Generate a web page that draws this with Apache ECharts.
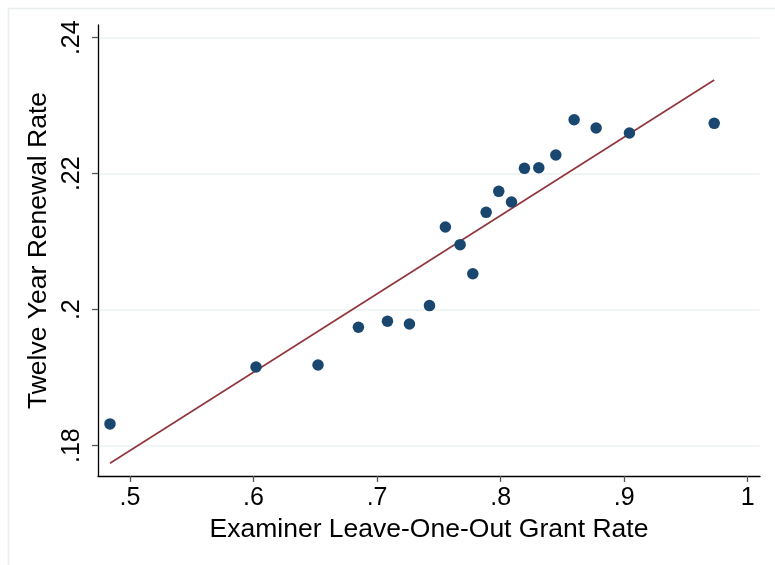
<!DOCTYPE html>
<html>
<head>
<meta charset="utf-8">
<script src="https://cdn.jsdelivr.net/npm/echarts@6/dist/echarts.min.js"></script>
<style>html,body{margin:0;padding:0;background:#fff;}#c{width:775px;height:565px;}</style>
</head>
<body>
<div id="c"></div>
<script>
const grantRate = [0.4838, 0.6020, 0.6522, 0.6849, 0.7084, 0.7262, 0.7424, 0.7553, 0.7672, 0.7775, 0.7883, 0.7985, 0.8088, 0.8193, 0.8309, 0.8447, 0.8595, 0.8773, 0.9043, 0.9729];
const renewalRate = [0.1832, 0.19157, 0.19187, 0.19741, 0.1983, 0.1979, 0.2006, 0.21216, 0.20956, 0.20529, 0.21432, 0.21741, 0.21584, 0.22079, 0.22088, 0.22275, 0.22794, 0.22672, 0.22599, 0.22741];
const fitX = [0.4838, 0.9729];
const fitY = [0.17741, 0.23378];
const xTicks = [0.5, 0.6, 0.7, 0.8, 0.9, 1];
const yTicks = [0.18, 0.20, 0.22, 0.24];

function stataFmt(v){
  let s = String(Math.round(v*1000)/1000);
  if (s.startsWith('0.')) s = s.slice(1);
  return s;
}

const chart = echarts.init(document.getElementById('c'), null, {renderer:'canvas'});
const font = '"Liberation Sans", Arial, sans-serif';
chart.setOption({
  animation: false,
  backgroundColor: '#fff',
  graphic: [{
    type: 'rect', left: 6, top: 6, shape: {x:0, y:0, width: 800, height: 600},
    style: {fill: 'none', stroke: '#e8eef0', lineWidth: 1.5}, silent: true, z: -1
  }],
  grid: {left: 98, right: 15, top: 25, bottom: 89, containLabel: false},
  xAxis: {
    type: 'value', min: 0.4741, max: 1.00996,
    name: 'Examiner Leave-One-Out Grant Rate', nameLocation: 'middle', nameGap: 40,
    nameTextStyle: {fontFamily: font, fontSize: 26.5, color: '#000'},
    axisLine: {show: true, onZero: false, lineStyle: {color: '#000', width: 1.3}},
    axisTick: {show: true, inside: false, length: 6, lineStyle: {color: '#555', width: 1.3},
      customValues: xTicks},
    axisLabel: {fontFamily: font, fontSize: 25, color: '#000', margin: 10,
      customValues: xTicks, formatter: stataFmt},
    splitLine: {show: false}
  },
  yAxis: {
    type: 'value', min: 0.17554, max: 0.24187,
    name: 'Twelve Year Renewal Rate', nameLocation: 'middle', nameGap: 43,
    nameTextStyle: {fontFamily: font, fontSize: 26.5, color: '#000'},
    axisLine: {show: true, onZero: false, lineStyle: {color: '#000', width: 1.3}},
    axisTick: {show: true, inside: false, length: 6, lineStyle: {color: '#555', width: 1.3},
      customValues: yTicks},
    axisLabel: {fontFamily: font, fontSize: 25, color: '#000', margin: 13, rotate: 90,
      customValues: yTicks, formatter: stataFmt},
    splitLine: {show: false}
  },
  series: [
    {
      type: 'line', silent: true, symbol: 'none', z: 0,
      data: [],
      markLine: {
        silent: true, symbol: 'none', label: {show: false}, z: 0,
        lineStyle: {color: '#eaf0f2', width: 1.5, type: 'solid'},
        data: yTicks.map(v => ({yAxis: v}))
      }
    },
    {
      type: 'line', symbol: 'none', z: 10,
      lineStyle: {color: '#90353b', width: 1.6},
      data: fitX.map((x, i) => [x, fitY[i]])
    },
    {
      type: 'scatter', symbol: 'circle', symbolSize: 11.5, z: 11,
      itemStyle: {color: '#1a476f', opacity: 1},
      data: grantRate.map((x, i) => [x, renewalRate[i]])
    }
  ]
});
</script>
</body>
</html>
